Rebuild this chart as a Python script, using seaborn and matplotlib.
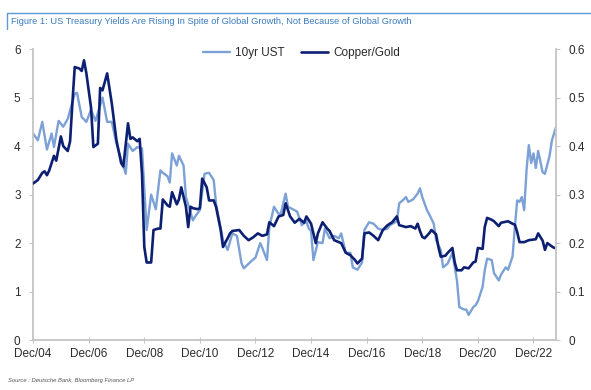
import pandas as pd
import numpy as np
import matplotlib
matplotlib.use("Agg")
import matplotlib.pyplot as plt
import seaborn as sns
from matplotlib.lines import Line2D

# 10yr UST (lhs, %)
ust_dates = ["2004-12", "2005-02", "2005-04", "2005-06", "2005-08", "2005-09", "2005-11",
             "2006-01", "2006-03", "2006-06", "2006-07", "2006-09", "2006-11", "2007-01",
             "2007-03", "2007-06", "2007-08", "2007-10", "2007-12", "2008-04", "2008-05",
             "2008-07", "2008-09", "2008-11", "2009-01", "2009-03", "2009-05", "2009-07",
             "2009-08", "2009-10", "2009-11", "2009-12", "2010-02", "2010-03", "2010-05",
             "2010-06", "2010-09", "2010-10", "2010-12", "2011-02", "2011-04", "2011-06",
             "2011-07", "2011-10", "2011-12", "2012-02", "2012-04", "2012-06", "2012-07",
             "2012-10", "2012-12", "2013-02", "2013-03", "2013-05", "2013-06", "2013-08",
             "2013-10", "2013-11", "2014-01", "2014-02", "2014-04", "2014-06", "2014-08",
             "2014-10", "2014-11", "2014-12", "2015-01", "2015-03", "2015-05", "2015-06",
             "2015-08", "2015-10", "2015-12", "2016-01", "2016-03", "2016-05", "2016-06",
             "2016-08", "2016-10", "2016-11", "2017-01", "2017-03", "2017-05", "2017-07",
             "2017-09", "2017-10", "2018-01", "2018-02", "2018-04", "2018-05", "2018-06",
             "2018-08", "2018-10", "2018-11", "2018-12", "2019-02", "2019-03", "2019-05",
             "2019-06", "2019-08", "2019-09", "2019-11", "2020-01", "2020-03", "2020-04",
             "2020-06", "2020-07", "2020-08", "2020-10", "2020-11", "2020-12", "2021-02",
             "2021-03", "2021-04", "2021-06", "2021-07", "2021-09", "2021-10", "2021-12",
             "2022-01", "2022-03", "2022-04", "2022-05", "2022-06", "2022-07", "2022-08",
             "2022-09", "2022-10", "2022-11", "2022-12", "2023-01", "2023-02", "2023-04",
             "2023-05", "2023-07", "2023-08", "2023-10"]
ust_vals = [4.26, 4.12, 4.50, 3.93, 4.26, 3.98, 4.52,
            4.40, 4.56, 5.08, 5.10, 4.60, 4.50, 4.75,
            4.52, 5.00, 4.50, 4.50, 4.05, 3.43, 4.05,
            3.90, 3.98, 3.95, 2.27, 3.00, 2.70, 3.50,
            3.45, 3.38, 3.25, 3.85, 3.60, 3.80, 3.60,
            2.95, 2.47, 2.55, 2.68, 3.43, 3.45, 3.30,
            2.82, 2.06, 1.86, 2.20, 2.15, 1.58, 1.48,
            1.62, 1.70, 2.00, 1.90, 1.65, 2.33, 2.75,
            2.60, 2.62, 3.02, 2.75, 2.70, 2.65, 2.37,
            2.45, 2.30, 2.25, 1.65, 2.02, 2.00, 2.30,
            2.10, 2.15, 2.10, 2.20, 1.80, 1.80, 1.50,
            1.45, 1.60, 2.27, 2.43, 2.40, 2.30, 2.27,
            2.30, 2.37, 2.45, 2.82, 2.90, 2.95, 2.85,
            2.90, 3.02, 3.13, 2.95, 2.68, 2.60, 2.40,
            2.06, 1.86, 1.50, 1.58, 1.80, 1.23, 0.68,
            0.63, 0.63, 0.52, 0.68, 0.72, 0.80, 1.10,
            1.44, 1.68, 1.65, 1.38, 1.23, 1.35, 1.50,
            1.45, 1.72, 2.33, 2.88, 2.85, 2.95, 2.68,
            3.50, 4.02, 3.65, 3.85, 3.55, 3.90, 3.46,
            3.43, 3.80, 4.12, 4.43]

# Copper/Gold ratio (rhs)
cg_dates = ["2004-12", "2005-02", "2005-04", "2005-05", "2005-06", "2005-07", "2005-09",
            "2005-10", "2005-12", "2006-01", "2006-03", "2006-04", "2006-05", "2006-06",
            "2006-08", "2006-09", "2006-10", "2006-11", "2007-01", "2007-02", "2007-04",
            "2007-05", "2007-06", "2007-08", "2007-10", "2007-12", "2008-02", "2008-03",
            "2008-05", "2008-06", "2008-07", "2008-09", "2008-10", "2008-11", "2008-12",
            "2009-01", "2009-03", "2009-04", "2009-06", "2009-07", "2009-08", "2009-10",
            "2009-11", "2009-12", "2010-02", "2010-03", "2010-04", "2010-06", "2010-07",
            "2010-08", "2010-09", "2010-11", "2010-12", "2011-01", "2011-03", "2011-04",
            "2011-06", "2011-07", "2011-09", "2011-10", "2011-12", "2012-01", "2012-02",
            "2012-05", "2012-07", "2012-09", "2012-11", "2013-01", "2013-03", "2013-05",
            "2013-06", "2013-08", "2013-10", "2013-12", "2014-01", "2014-03", "2014-05",
            "2014-07", "2014-09", "2014-10", "2014-12", "2015-02", "2015-03", "2015-05",
            "2015-07", "2015-08", "2015-10", "2016-01", "2016-03", "2016-05", "2016-07",
            "2016-08", "2016-10", "2016-11", "2017-01", "2017-03", "2017-05", "2017-07",
            "2017-09", "2017-11", "2018-01", "2018-02", "2018-05", "2018-07", "2018-09",
            "2018-10", "2018-11", "2018-12", "2019-01", "2019-03", "2019-04", "2019-06",
            "2019-07", "2019-08", "2019-10", "2019-11", "2020-01", "2020-02", "2020-03",
            "2020-05", "2020-06", "2020-08", "2020-10", "2020-11", "2020-12", "2021-02",
            "2021-03", "2021-04", "2021-06", "2021-07", "2021-09", "2021-10", "2022-01",
            "2022-03", "2022-04", "2022-05", "2022-06", "2022-08", "2022-10", "2023-01",
            "2023-02", "2023-04", "2023-05", "2023-06", "2023-08", "2023-09"]
cg_vals = [0.323, 0.330, 0.345, 0.348, 0.340, 0.350, 0.380,
           0.370, 0.420, 0.400, 0.390, 0.410, 0.488, 0.563,
           0.560, 0.555, 0.577, 0.550, 0.480, 0.398, 0.405,
           0.520, 0.515, 0.550, 0.488, 0.412, 0.365, 0.358,
           0.447, 0.415, 0.418, 0.410, 0.415, 0.343, 0.192,
           0.160, 0.160, 0.227, 0.230, 0.230, 0.290, 0.278,
           0.275, 0.305, 0.280, 0.290, 0.315, 0.275, 0.233,
           0.275, 0.272, 0.270, 0.272, 0.333, 0.315, 0.288,
           0.288, 0.275, 0.227, 0.192, 0.210, 0.220, 0.225,
           0.227, 0.215, 0.206, 0.212, 0.220, 0.215, 0.218,
           0.243, 0.235, 0.255, 0.258, 0.282, 0.255, 0.242,
           0.250, 0.242, 0.255, 0.240, 0.200, 0.220, 0.243,
           0.230, 0.225, 0.206, 0.200, 0.180, 0.175, 0.165,
           0.158, 0.168, 0.220, 0.222, 0.215, 0.206, 0.227,
           0.237, 0.243, 0.255, 0.237, 0.233, 0.235, 0.230,
           0.240, 0.225, 0.213, 0.210, 0.220, 0.227, 0.218,
           0.192, 0.172, 0.174, 0.180, 0.190, 0.160, 0.144,
           0.144, 0.150, 0.148, 0.160, 0.162, 0.190, 0.188,
           0.233, 0.252, 0.248, 0.245, 0.235, 0.242, 0.245,
           0.240, 0.238, 0.223, 0.202, 0.202, 0.206, 0.208,
           0.220, 0.205, 0.186, 0.200, 0.193, 0.190]

tick_years = ["2004", "2006", "2008", "2010", "2012", "2014", "2016", "2018", "2020", "2022"]

light = "#7ba1d6"
dark = "#0c1f73"
grey = "#c4c4c4"
txt = "#2b2b2b"

sns.set_style("white")
plt.rcParams["font.family"] = ["Liberation Sans", "DejaVu Sans"]

fig = plt.figure(figsize=(5.91, 3.9), dpi=100)
ax = fig.add_axes([0.056, 0.128, 0.885, 0.746])

sns.lineplot(x=pd.to_datetime(ust_dates), y=ust_vals, ax=ax, color=light, lw=1.7, legend=False)
ax2 = ax.twinx()
sns.lineplot(x=pd.to_datetime(cg_dates), y=cg_vals, ax=ax2, color=dark, lw=1.9, legend=False)

ax.set_xlim(pd.Timestamp("2004-12-01"), pd.Timestamp("2023-09-25"))
ax.set_ylim(0, 6)
ax2.set_ylim(0, 0.6)
ax.set_yticks(range(7))
ax.set_yticklabels([str(i) for i in range(7)])
ax2.set_yticks([i / 10 for i in range(7)])
ax2.set_yticklabels(["0"] + [f"0.{i}" for i in range(1, 7)])
ax.set_xticks(pd.to_datetime([y + "-12-01" for y in tick_years]))
ax.set_xticklabels(["Dec/" + y[2:] for y in tick_years])
ax.set_xlabel("")
ax.set_ylabel("")
ax2.set_ylabel("")

for a in (ax, ax2):
    for s in a.spines.values():
        s.set_visible(False)
ax.spines["left"].set_visible(True)
ax.spines["bottom"].set_visible(True)
ax2.spines["right"].set_visible(True)
for s in (ax.spines["left"], ax.spines["bottom"], ax2.spines["right"]):
    s.set_color(grey)
    s.set_linewidth(1.3)

ax.tick_params(axis="y", length=3, color=grey, labelsize=8.5, labelcolor=txt, pad=6, left=True)
ax.tick_params(axis="x", direction="inout", length=4, color=grey, labelsize=8.5,
               labelcolor=txt, pad=4, bottom=True)
ax2.tick_params(axis="y", length=3, color=grey, labelsize=8.5, labelcolor=txt, pad=6, right=True)

handles = [Line2D([], [], color=light, lw=1.7), Line2D([], [], color=dark, lw=1.9)]
fig.legend(handles, ["10yr UST", "Copper/Gold"], loc="center", bbox_to_anchor=(0.51, 0.864),
           ncol=2, frameon=False, fontsize=8.5, handlelength=2.3, columnspacing=1.4,
           handletextpad=0.4, labelcolor=txt)

fig.text(0.019, 0.944, "Figure 1: US Treasury Yields Are Rising In Spite of Global Growth, "
         "Not Because of Global Growth", fontsize=6.7, color="#3b7bbd", va="center")
fig.add_artist(Line2D([0.012, 1.0], [0.967, 0.967], color="#5b9bd5", lw=1.0))
fig.add_artist(Line2D([0.012, 0.012], [0.967, 0.925], color="#5b9bd5", lw=1.0))
fig.text(0.013, 0.025, "Source : Deutsche Bank, Bloomberg Finance LP", fontsize=4.2,
         style="italic", color="#555555", va="center")

fig.savefig("out.png", dpi=100)
